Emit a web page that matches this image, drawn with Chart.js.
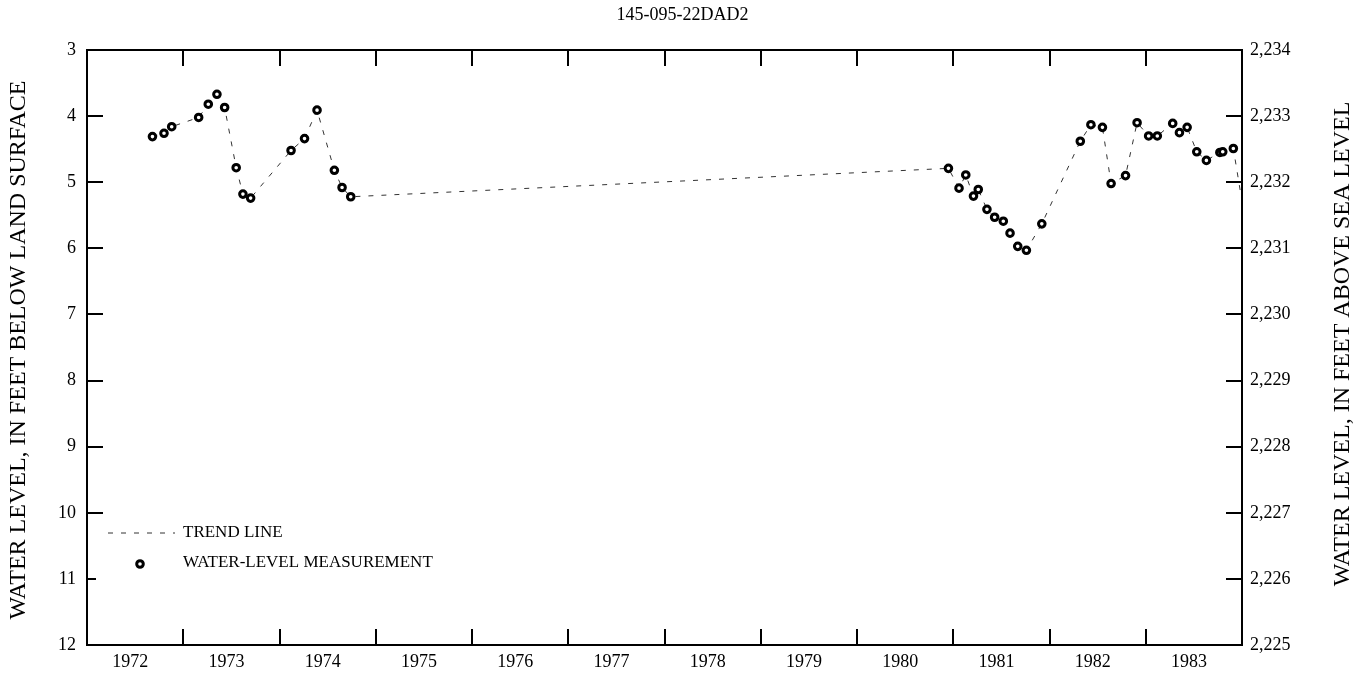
<!DOCTYPE html>
<html>
<head>
<meta charset="utf-8">
<script src="https://cdn.jsdelivr.net/npm/chart.js@4.4.0/dist/chart.umd.min.js"></script>
<style>
  html, body { margin: 0; padding: 0; background: #fff; }
  #wrap { width: 1365px; height: 675px; }
</style>
</head>
<body>
<div id="wrap"><canvas id="myChart" width="1365" height="675"></canvas></div>
<script>
const title = '145-095-22DAD2';
const leftTitle = 'WATER LEVEL, IN FEET BELOW LAND SURFACE';
const rightTitle = 'WATER LEVEL, IN FEET ABOVE SEA LEVEL';
const landSurface = 2237;

// tick labels along the bottom (label sits in the middle of each year)
const years = [1972, 1973, 1974, 1975, 1976, 1977, 1978, 1979, 1980, 1981, 1982, 1983];

// measurement dates (decimal years) and depth below land surface, in feet
const dates = [
  1972.68, 1972.80, 1972.88, 1973.16, 1973.26, 1973.35, 1973.43, 1973.55, 1973.62, 1973.70,
  1974.12, 1974.26, 1974.39, 1974.57, 1974.65, 1974.74,
  1980.95, 1981.06, 1981.13, 1981.21, 1981.26, 1981.35, 1981.43, 1981.52, 1981.59, 1981.67,
  1981.76, 1981.92, 1982.32, 1982.43, 1982.55, 1982.64, 1982.79, 1982.91, 1983.03, 1983.12,
  1983.28, 1983.35, 1983.43, 1983.53, 1983.63, 1983.77, 1983.80, 1983.91, 1984.08
];
const depths = [
  4.31, 4.26, 4.16, 4.02, 3.82, 3.67, 3.87, 4.78, 5.18, 5.24,
  4.52, 4.34, 3.91, 4.82, 5.08, 5.22,
  4.79, 5.09, 4.89, 5.21, 5.11, 5.41, 5.53, 5.59, 5.77, 5.97,
  6.03, 5.63, 4.38, 4.13, 4.17, 5.02, 4.90, 4.10, 4.30, 4.30,
  4.11, 4.25, 4.17, 4.54, 4.67, 4.55, 4.54, 4.49, 6.00
];

const leftTicks = [3, 4, 5, 6, 7, 8, 9, 10, 11, 12];
const rightTicks = [2225, 2226, 2227, 2228, 2229, 2230, 2231, 2232, 2233, 2234];

const serif = 'Liberation Serif';

function points() {
  return dates.map((d, i) => ({ x: d, y: depths[i] }));
}

function withComma(v) {
  return String(v).replace(/\B(?=(\d{3})+(?!\d))/g, ',');
}

// frame, inward ticks, axis titles, title and the little legend box
const decorations = {
  id: 'decorations',
  afterDraw(chart) {
    const ctx = chart.ctx;
    const a = chart.chartArea;
    const x = chart.scales.x;
    const yl = chart.scales.y;
    const yr = chart.scales.y2;
    const tick = 16;

    ctx.save();
    ctx.strokeStyle = '#000';
    ctx.lineWidth = 2;
    ctx.setLineDash([]);
    ctx.beginPath();
    for (let yr0 = years[0] + 1; yr0 <= years[years.length - 1]; yr0++) {
      const px = Math.round(x.getPixelForValue(yr0));
      ctx.moveTo(px, a.top); ctx.lineTo(px, a.top + tick);
      ctx.moveTo(px, a.bottom); ctx.lineTo(px, a.bottom - tick);
    }
    leftTicks.slice(1, -1).forEach(v => {
      const py = Math.round(yl.getPixelForValue(v));
      ctx.moveTo(a.left, py); ctx.lineTo(a.left + tick, py);
    });
    rightTicks.slice(1, -1).forEach(v => {
      const py = Math.round(yr.getPixelForValue(v));
      ctx.moveTo(a.right, py); ctx.lineTo(a.right - tick, py);
    });
    ctx.stroke();
    ctx.strokeRect(a.left, a.top, a.right - a.left, a.bottom - a.top);

    // legend
    ctx.fillStyle = '#fff';
    ctx.fillRect(a.left + 9, a.top + 473, 380, 68);
    ctx.strokeStyle = '#333';
    ctx.lineWidth = 1;
    ctx.setLineDash([5, 8]);
    ctx.beginPath();
    ctx.moveTo(a.left + 21, a.top + 483);
    ctx.lineTo(a.left + 88, a.top + 483);
    ctx.stroke();
    ctx.setLineDash([]);
    ctx.strokeStyle = '#000';
    ctx.lineWidth = 3;
    ctx.beginPath();
    ctx.arc(a.left + 53, a.top + 514, 3.3, 0, Math.PI * 2);
    ctx.fillStyle = '#fff';
    ctx.fill();
    ctx.stroke();
    ctx.fillStyle = '#000';
    ctx.font = '17px "' + serif + '"';
    ctx.textBaseline = 'middle';
    ctx.textAlign = 'left';
    ctx.fillText('TREND LINE', a.left + 96, a.top + 483);
    ctx.fillText('WATER-LEVEL MEASUREMENT', a.left + 96, a.top + 513);

    // title
    ctx.font = '18px "' + serif + '"';
    ctx.textAlign = 'center';
    ctx.fillText(title, chart.width / 2, 15);

    // axis titles, both read bottom to top
    ctx.font = '24px "' + serif + '"';
    ctx.save();
    ctx.translate(19, 350);
    ctx.rotate(-Math.PI / 2);
    ctx.fillText(leftTitle, 0, 0);
    ctx.restore();
    ctx.save();
    ctx.translate(1343, 344);
    ctx.rotate(-Math.PI / 2);
    ctx.fillText(rightTitle, 0, 0);
    ctx.restore();
    ctx.restore();
  }
};

const data = {
  datasets: [{
    label: 'WATER-LEVEL MEASUREMENT',
    data: points(),
    showLine: false,
    pointStyle: 'circle',
    pointRadius: 3.3,
    pointBorderWidth: 3,
    pointBorderColor: '#000',
    pointBackgroundColor: '#fff',
    yAxisID: 'y'
  }, {
    label: 'TREND LINE',
    data: points(),
    showLine: true,
    borderColor: '#333',
    borderWidth: 1,
    borderDash: [5, 8],
    pointRadius: 0,
    fill: false,
    yAxisID: 'y'
  }]
};

const config = {
  type: 'scatter',
  data: data,
  options: {
    responsive: false,
    animation: false,
    devicePixelRatio: 1,
    layout: { padding: { top: 50, left: 0, right: 0, bottom: 0 } },
    plugins: {
      legend: { display: false },
      title: { display: false },
      tooltip: { enabled: false }
    },
    scales: {
      x: {
        type: 'linear',
        min: 1972,
        max: 1984,
        afterBuildTicks: s => { s.ticks = years.map(y => ({ value: y + 0.45 })); },
        afterFit: s => { s.height = 30; },
        grid: { display: false, drawTicks: false },
        border: { display: false },
        ticks: {
          autoSkip: false,
          maxRotation: 0,
          padding: 6,
          color: '#000',
          font: { family: serif, size: 18 },
          callback: v => String(Math.floor(v))
        }
      },
      y: {
        type: 'linear',
        position: 'left',
        reverse: true,
        min: 3,
        max: 12,
        afterBuildTicks: s => { s.ticks = leftTicks.map(v => ({ value: v })); },
        afterFit: s => { s.width = 87; },
        grid: { display: false, drawTicks: false },
        border: { display: false },
        ticks: {
          padding: 11,
          color: '#000',
          font: { family: serif, size: 18 },
          callback: v => String(v)
        }
      },
      y2: {
        type: 'linear',
        position: 'right',
        min: landSurface - 12,
        max: landSurface - 3,
        afterBuildTicks: s => { s.ticks = rightTicks.map(v => ({ value: v })); },
        afterFit: s => { s.width = 123; },
        grid: { display: false, drawTicks: false },
        border: { display: false },
        ticks: {
          padding: 8,
          color: '#000',
          font: { family: serif, size: 18 },
          callback: v => withComma(v)
        }
      }
    }
  },
  plugins: [decorations]
};

let myChart = document.getElementById('myChart').getContext('2d');
let lineChart = new Chart(myChart, config);
</script>
</body>
</html>
